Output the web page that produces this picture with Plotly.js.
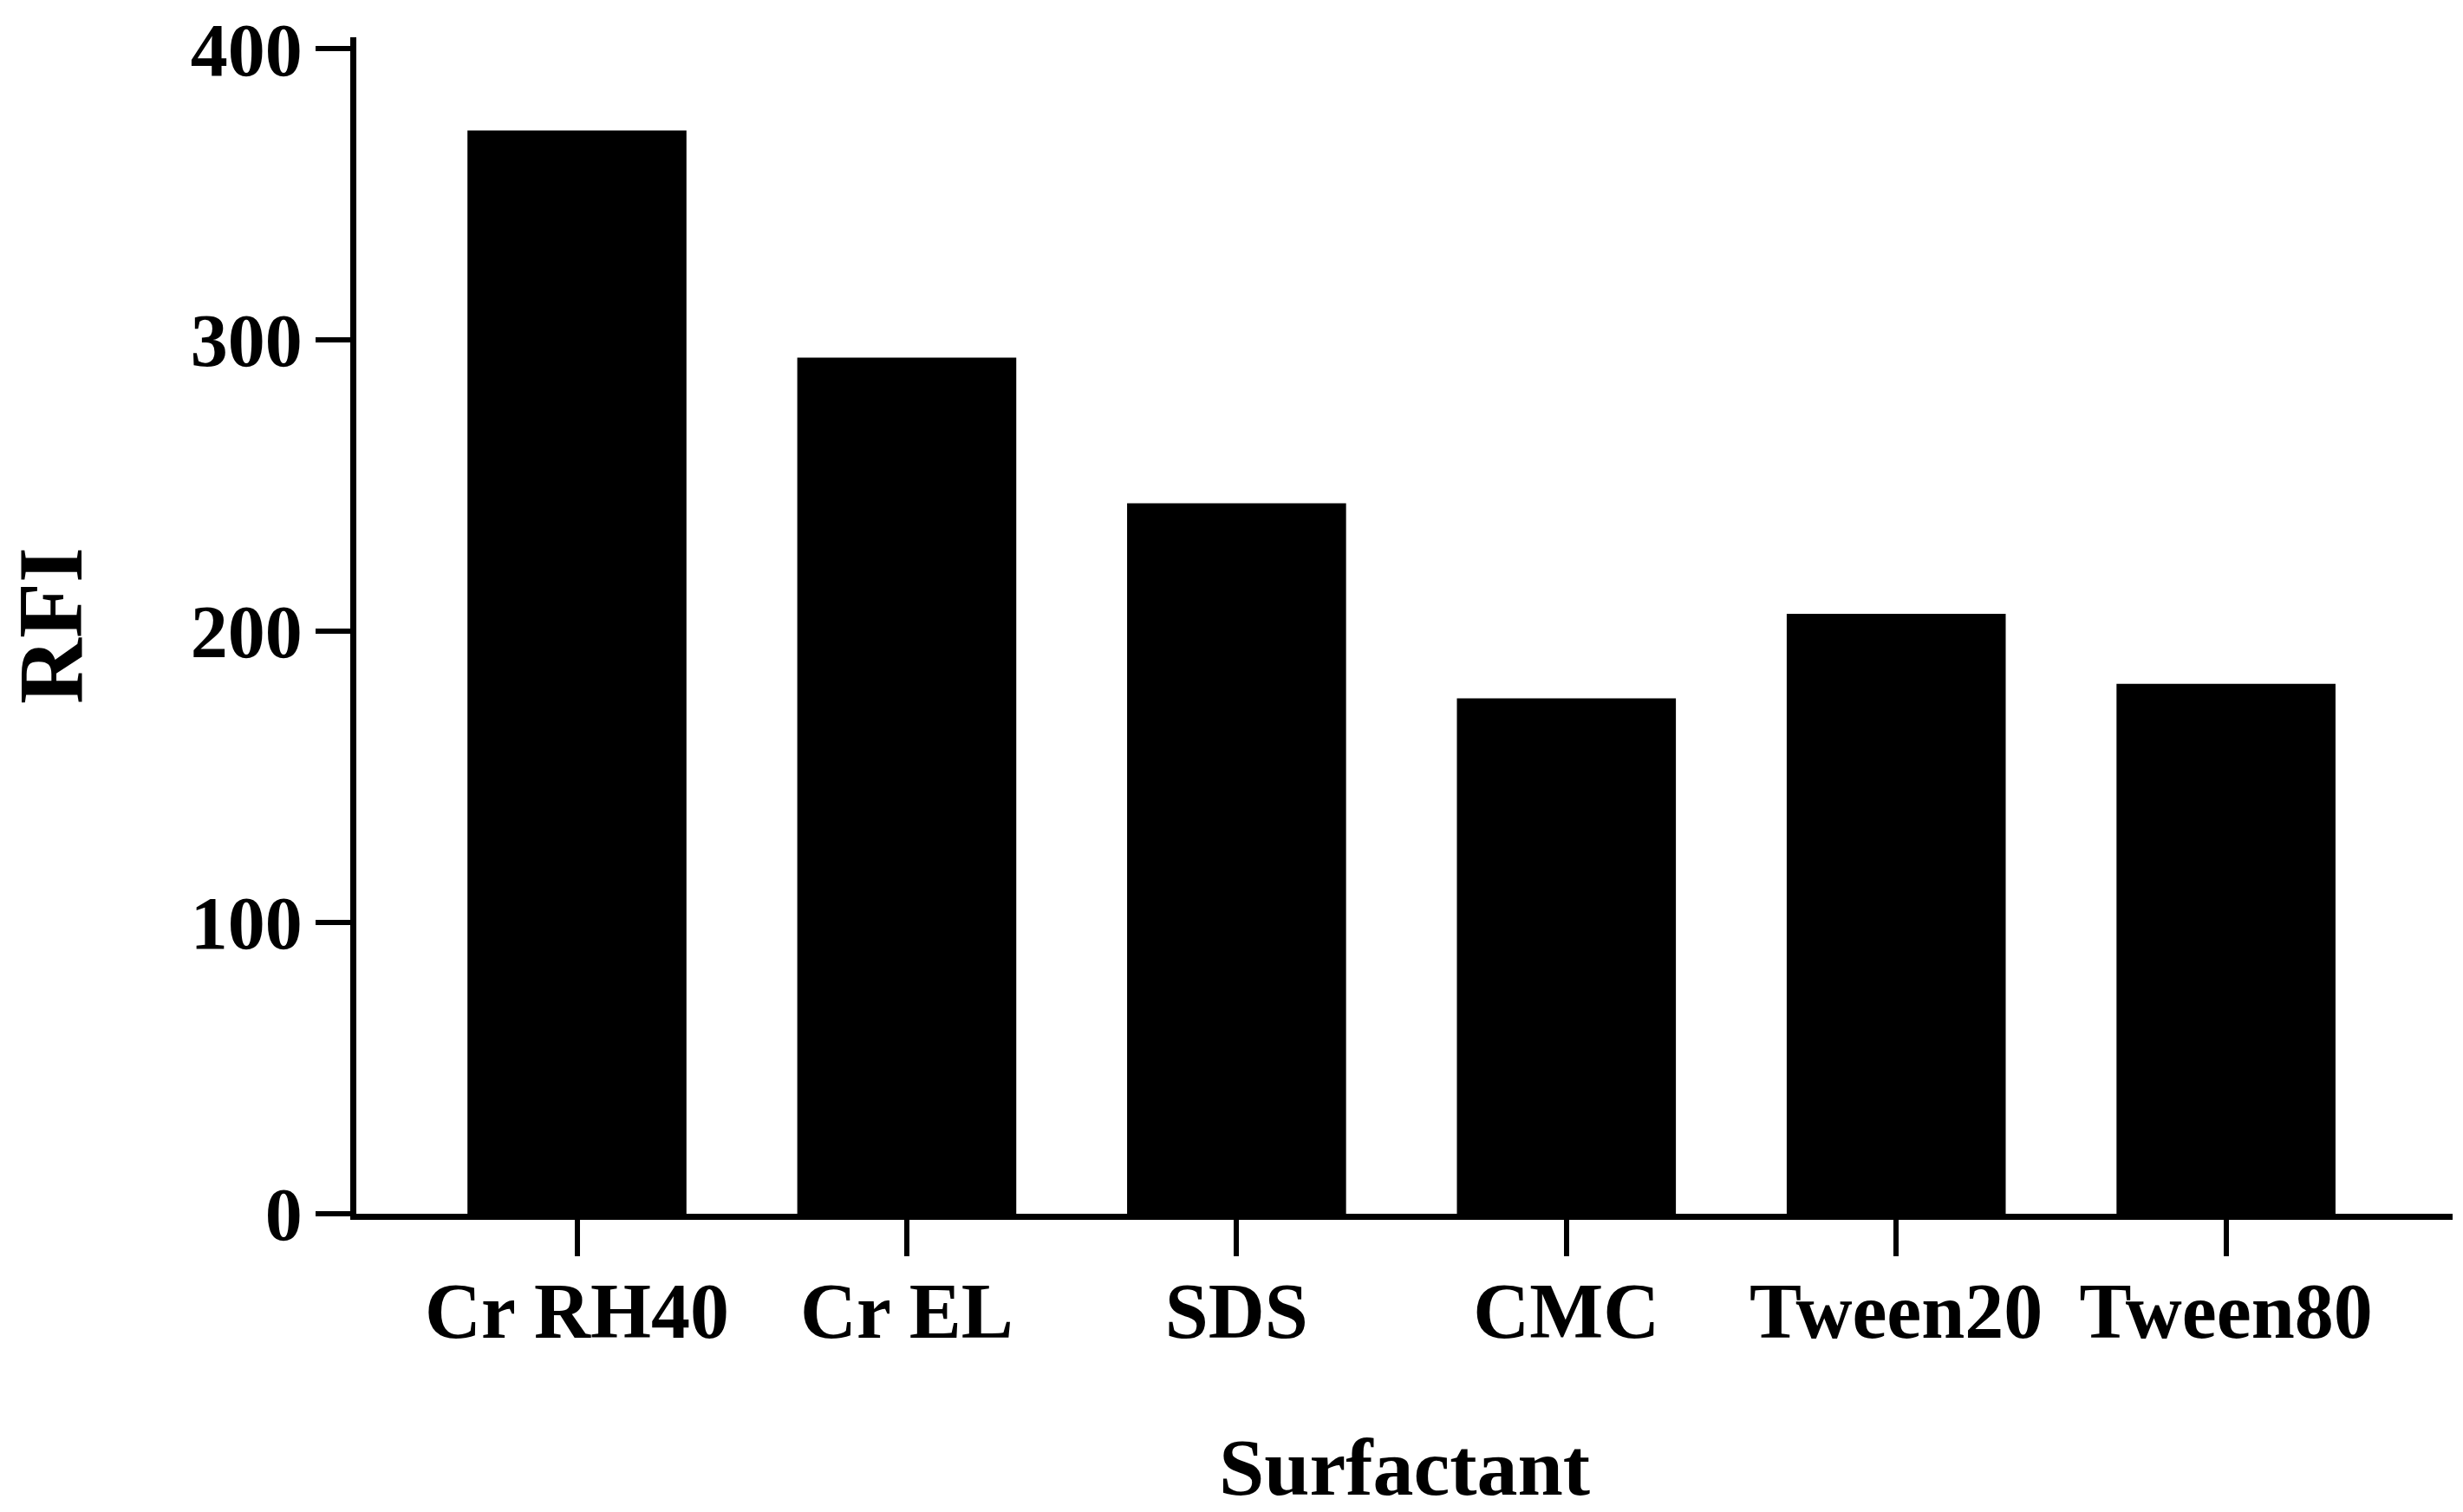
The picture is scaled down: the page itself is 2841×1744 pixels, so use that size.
<!DOCTYPE html>
<html>
<head>
<meta charset="utf-8">
<script src="https://cdn.plot.ly/plotly-3.0.1.min.js"></script>
<style>
  html, body { margin: 0; padding: 0; background: #ffffff; }
  #chart { width: 2841px; height: 1744px; }
</style>
</head>
<body>
<div id="chart"></div>
<script>
// Data
const categories = ["Cr RH40", "Cr EL", "SDS", "CMC", "Tween20", "Tween80"];
const rfiValues = [372, 294, 244, 177, 206, 182];
const yTickValues = [0, 100, 200, 300, 400];
const yTickLabels = ["0", "100", "200", "300", "400"];
const xTitle = "Surfactant";
const yTitle = "RFI";

const fontFamily = "'Times New Roman', 'Liberation Serif', serif";

const trace = {
  type: "bar",
  x: categories,
  y: rfiValues,
  marker: { color: "#000000", line: { width: 0 } },
  width: 0.664,
  hoverinfo: "x+y"
};

const layout = {
  width: 2841,
  height: 1744,
  paper_bgcolor: "#ffffff",
  plot_bgcolor: "#ffffff",
  showlegend: false,
  margin: { l: 411, r: 12, t: 43, b: 344, pad: 0 },
  font: { family: fontFamily, color: "#000000" },
  xaxis: {
    type: "category",
    range: [-0.669, 5.687],
    showgrid: false,
    zeroline: false,
    showline: true,
    linecolor: "#000000",
    linewidth: 7,
    ticks: "outside",
    ticklen: 42,
    tickwidth: 6,
    tickcolor: "#000000",
    ticklabelstandoff: -14,
    tickfont: { family: fontFamily, size: 90, color: "#000000", weight: "bold" },
    title: {
      text: "<b>" + xTitle + "</b>",
      font: { family: fontFamily, size: 94, color: "#000000" },
      standoff: 150
    }
  },
  yaxis: {
    range: [0, 404],
    showgrid: false,
    zeroline: false,
    showline: true,
    linecolor: "#000000",
    linewidth: 7,
    ticks: "outside",
    ticklen: 40,
    tickwidth: 6,
    tickcolor: "#000000",
    tickmode: "array",
    tickvals: yTickValues,
    ticktext: yTickLabels,
    ticklabelstandoff: -2,
    tickfont: { family: fontFamily, size: 86, color: "#000000", weight: "bold" },
    title: {
      text: "<b>" + yTitle + "</b>",
      font: { family: fontFamily, size: 105, color: "#000000" },
      standoff: 136
    }
  }
};

Plotly.newPlot("chart", [trace], layout, { displayModeBar: false, staticPlot: true });
</script>
</body>
</html>
